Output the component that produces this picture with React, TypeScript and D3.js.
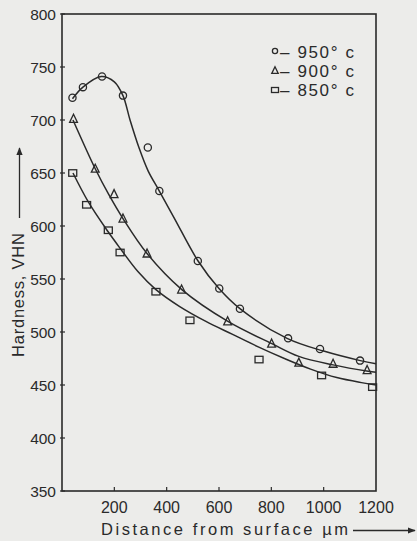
import React from "react";
import * as d3 from "d3";

// Measured points
const x950 = [40, 80, 153, 233, 328, 372, 519, 601, 680, 864, 986, 1139];
const y950 = [721, 731, 741, 723, 674, 633, 567, 541, 522, 494, 484, 473];
const x900 = [44, 127, 199, 233, 325, 457, 633, 801, 905, 1036, 1166];
const y900 = [701, 654, 630, 607, 574, 540, 510, 489, 471, 470, 464];
const x850 = [41, 94, 177, 222, 359, 489, 753, 992, 1187];
const y850 = [650, 620, 596, 575, 538, 511, 474, 459, 448];

// Fitted (hand-drawn) curves
const fx950 = [40, 80, 150, 200, 233, 260, 294, 329, 372, 430, 520, 600, 680, 860, 1000, 1140, 1200];
const fy950 = [720, 731, 741, 736, 723, 700, 674, 652, 633, 607, 567, 541, 522, 494, 482, 473, 470];
const fx900 = [42, 127, 178, 233, 325, 458, 634, 802, 905, 1036, 1170, 1200];
const fy900 = [700, 654, 630, 607, 574, 540, 510, 489, 477, 469, 463, 462];
const fx850 = [42, 100, 175, 222, 290, 359, 450, 550, 650, 750, 850, 950, 1050, 1150, 1200];
const fy850 = [650, 623, 595, 579, 557, 540, 524, 510, 498, 486, 475, 465, 457, 452, 450];

const xTicks = [200, 400, 600, 800, 1000, 1200];
const yTicks = [350, 400, 450, 500, 550, 600, 650, 700, 750, 800];
const legendLabels = ["– 950° c", "– 900° c", "– 850° c"];

const W = 417, H = 541;
const L = 62, R = 376, T = 14, B = 491;
const INK = "#2a2a2a";

export default function App() {
  const x = d3.scaleLinear().domain([0, 1200]).range([L, R]);
  const y = d3.scaleLinear().domain([350, 800]).range([B, T]);
  const line = d3
    .line<[number, number]>()
    .x((d) => x(d[0]))
    .y((d) => y(d[1]))
    .curve(d3.curveCatmullRom.alpha(0.5));
  const zip = (a: number[], b: number[]) => a.map((v, i) => [v, b[i]] as [number, number]);

  const circle = (cx: number, cy: number, r = 3.6, key?: any) => (
    <circle key={key} cx={cx} cy={cy} r={r} fill="none" stroke={INK} strokeWidth={1.3} />
  );
  const tri = (cx: number, cy: number, s = 4.5, key?: any) => (
    <path
      key={key}
      d={`M${cx},${cy - s} L${cx + s * 0.85},${cy + s * 0.75} L${cx - s * 0.85},${cy + s * 0.75} Z`}
      fill="none"
      stroke={INK}
      strokeWidth={1.3}
    />
  );
  const sq = (cx: number, cy: number, w = 8, h = 6, key?: any) => (
    <rect key={key} x={cx - w / 2} y={cy - h / 2} width={w} height={h} fill="none" stroke={INK} strokeWidth={1.3} />
  );

  const font = "'Liberation Sans', Arial, sans-serif";

  return (
    <svg
      width={W}
      height={H}
      style={{ position: "absolute", left: 0, top: 0, background: "#ececea" }}
      fontFamily={font}
    >
      <defs>
        <marker id="ah" viewBox="0 0 10 10" refX="9" refY="5" markerWidth="9" markerHeight="6" orient="auto">
          <path d="M0,1 L10,5 L0,9 Z" fill={INK} />
        </marker>
      </defs>
      {/* frame */}
      <rect x={L} y={T} width={R - L} height={B - T} fill="none" stroke={INK} strokeWidth={1.6} />
      {/* x ticks */}
      {xTicks.map((t) => (
        <g key={"xt" + t}>
          {t < 1200 && <line x1={x(t)} x2={x(t)} y1={B} y2={B - 4} stroke={INK} strokeWidth={1.2} />}
          <text x={x(t)} y={513} textAnchor="middle" fontSize={16} fill={INK}>
            {t}
          </text>
        </g>
      ))}
      {/* y ticks */}
      {yTicks.map((t) => (
        <g key={"yt" + t}>
          <line x1={L - 2} x2={L + 3} y1={y(t)} y2={y(t)} stroke={INK} strokeWidth={1.2} />
          <text x={56} y={y(t) + 5.5} textAnchor="end" fontSize={15.5} fill={INK}>
            {t}
          </text>
        </g>
      ))}
      {/* axis titles */}
      <text x={101} y={535} fontSize={16.5} fill={INK} textLength={247} lengthAdjust="spacing">
        Distance from surface µm
      </text>
      <line x1={353} x2={415} y1={530.5} y2={530.5} stroke={INK} strokeWidth={1.3} markerEnd="url(#ah)" />
      <text
        transform={`translate(24,295) rotate(-90)`}
        textAnchor="middle"
        fontSize={16.5}
        fill={INK}
        textLength={124}
        lengthAdjust="spacing"
      >
        Hardness, VHN
      </text>
      <line x1={19.5} x2={19.5} y1={218} y2={148} stroke={INK} strokeWidth={1.3} markerEnd="url(#ah)" />

      {/* curves */}
      <path d={line(zip(fx950, fy950)) || ""} fill="none" stroke={INK} strokeWidth={1.5} />
      <path d={line(zip(fx900, fy900)) || ""} fill="none" stroke={INK} strokeWidth={1.5} />
      <path d={line(zip(fx850, fy850)) || ""} fill="none" stroke={INK} strokeWidth={1.5} />

      {/* points */}
      {x950.map((v, i) => circle(x(v), y(y950[i]), 3.6, "c" + i))}
      {x900.map((v, i) => tri(x(v), y(y900[i]), 4.6, "t" + i))}
      {x850.map((v, i) => sq(x(v), y(y850[i]), 8, 6.5, "s" + i))}

      {/* legend */}
      {circle(275, 51, 2.6, "lc")}
      {tri(275, 70.5, 3.8, "lt")}
      {sq(275, 90, 7, 5, "ls")}
      {legendLabels.map((s, i) => (
        <text
          key={"lg" + i}
          x={280}
          y={57.5 + i * 19}
          fontSize={17}
          fill={INK}
          textLength={74}
          lengthAdjust="spacing"
          style={{ whiteSpace: "pre" }}
        >
          {s}
        </text>
      ))}
    </svg>
  );
}
